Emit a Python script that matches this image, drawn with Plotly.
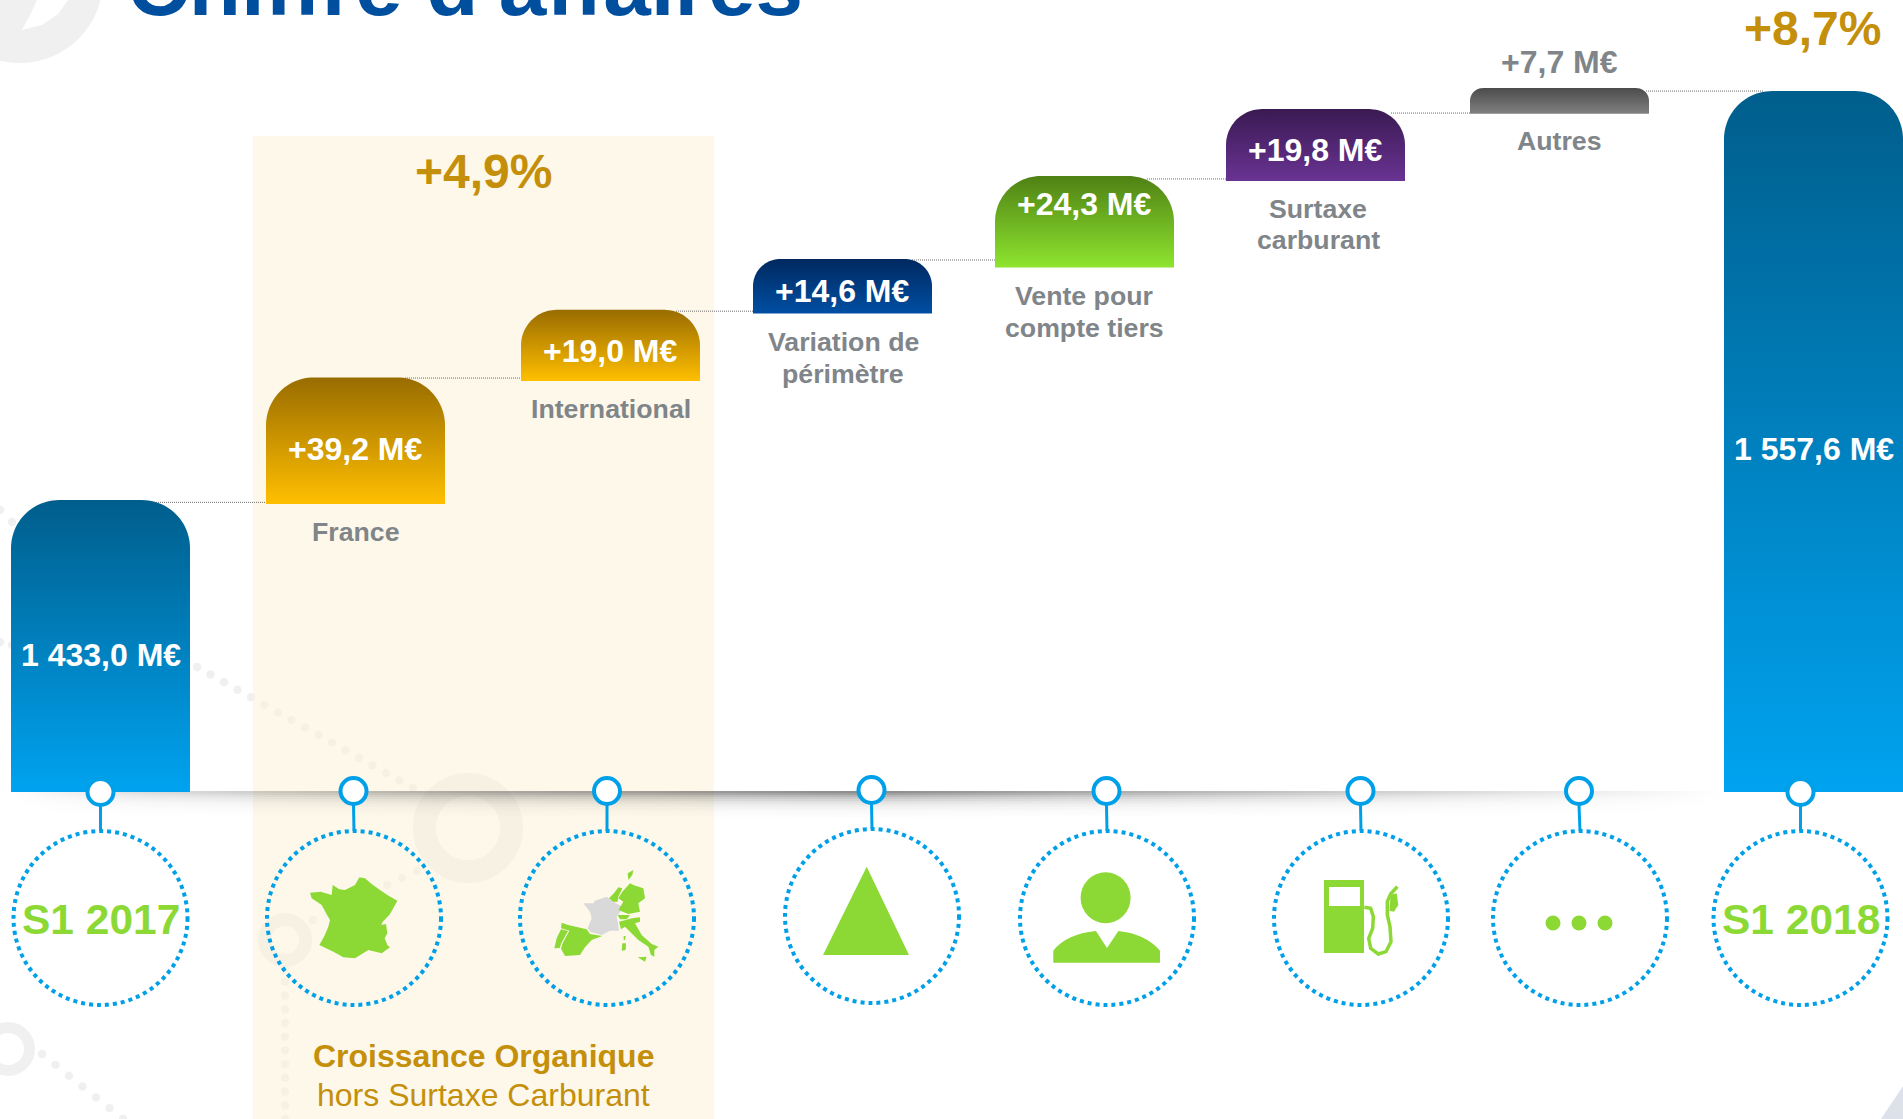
import math
import plotly.graph_objects as go

W, H = 1903, 1119

# ---------- data ----------
categories = ["S1 2017", "France", "International", "Variation de<br>périmètre",
              "Vente pour<br>compte tiers", "Surtaxe<br>carburant", "Autres", "S1 2018"]
value_labels = ["1 433,0 M€", "+39,2 M€", "+19,0 M€", "+14,6 M€",
                "+24,3 M€", "+19,8 M€", "+7,7 M€", "1 557,6 M€"]
bar_low = [1344.0, 1431.8, 1469.3, 1489.9, 1503.9, 1530.3, 1550.8, 1344.0]
bar_high = [1433.0, 1470.4, 1491.0, 1506.5, 1531.8, 1552.2, 1558.6, 1557.7]
connector_levels = [1432.3, 1470.2, 1490.6, 1506.2, 1530.9, 1551.0, 1557.7]
growth_organic = "+4,9%"
growth_total = "+8,7%"
title_text = "Chiffre d'affaires"
organic_line1 = "Croissance Organique"
organic_line2 = "hors Surtaxe Carburant"

# ---------- layout constants ----------
BASE_PX = 792
PX_PER_UNIT = 3.28
BASE_VAL = 1344.0


def yv(px):
    return BASE_VAL + (BASE_PX - px) / PX_PER_UNIT


def xp(px):
    return px / W


def yp(px):
    return 1 - px / H


bar_left = [11, 266, 521, 753, 995, 1226, 1470, 1724]
bar_w = 179
bar_grad = [("#005E8C", "#00A3F0"), ("#996C00", "#FFBF00"), ("#996C00", "#FFBF00"),
            ("#00285F", "#004FA3"), ("#4F8114", "#8EE52F"), ("#3A1A52", "#693393"),
            ("#4C4C4C", "#808080"), ("#005E8C", "#00A3F0")]
value_y = [655.5, 449, 351, 291, 204, 150, 62.5, 449]
value_colors = ["white"] * 6 + ["#7F8589", "white"]
cat_y = [None, [532], [409], [342, 374], [296, 328.5], [208.5, 240], [141], None]
cat_x = [None, 355.5, 610.5, 843, 1084, 1318, 1559, None]
conn_x0 = [150, 405, 676, 912, 1147, 1391, 1646]
conn_x1 = [266, 521, 753, 995, 1226, 1470, 1764]

circle_x = [100.5, 354, 607, 872, 1107, 1361, 1580, 1800.5]
circle_y = [918, 918, 918, 916, 918, 918, 918, 918]
pin_x = [100.5, 353.5, 607, 871.5, 1106.5, 1360.5, 1579, 1800.5]
pin_y = [792, 791, 791, 790, 791, 791, 791, 792]
CIRC_R = 87
BLUE = "#00A0E9"
GREEN = "#8CD936"
GOLD = "#C48F0A"
GREY_TXT = "#7F8589"
DECO = "#F0F0F0"
FONT = "Liberation Sans"


def path(points, close=True):
    s = "M " + " L ".join(f"{xp(x):.5f} {yp(y):.5f}" for x, y in points)
    return s + (" Z" if close else "")


def shp(points, fill, layer="above", close=True, line=None, width=0):
    return dict(type="path", xref="paper", yref="paper", path=path(points, close), layer=layer,
                fillcolor=fill if close else None,
                line=dict(color=line or "rgba(0,0,0,0)", width=width))


def ell(cx, cy, rx, ry, fill=None, line=None, width=0, dash=None, layer="above"):
    l = dict(color=line or "rgba(0,0,0,0)", width=width)
    if dash:
        l["dash"] = dash
    return dict(type="circle", xref="paper", yref="paper", layer=layer,
                x0=xp(cx - rx), x1=xp(cx + rx), y0=yp(cy - ry), y1=yp(cy + ry),
                fillcolor=fill or "rgba(0,0,0,0)", line=l)


def zoomed(points, ox, oy):
    return [(ox + x / 3, oy + y / 3) for x, y in points]


def deco_dots(points, step=15, r=4.2):
    out = []
    for (x0, y0), (x1, y1) in zip(points[:-1], points[1:]):
        n = max(1, int(math.hypot(x1 - x0, y1 - y0) / step))
        for i in range(n + 1):
            cx = x0 + (x1 - x0) * i / n
            cy = y0 + (y1 - y0) * i / n
            out.append(ell(cx, cy, r, r, fill=DECO, layer="below"))
    return out


fig = go.Figure()
shapes = []

# ---------- background decoration (under the translucent band) ----------
shapes.append(ell(20, -20, 83, 83, fill=DECO, layer="below"))
shapes.append(shp([(37, 0), (68, 0), (58, 14), (42, 25), (22, 30), (30, 15)], "#FFFFFF", layer="below"))
shapes.append(ell(468, 828, 43.5, 43.5, line=DECO, width=23, layer="below"))
shapes.append(ell(285, 940, 20.5, 20.5, line=DECO, width=13, layer="below"))
shapes.append(ell(8, 1049, 21.5, 21.5, line=DECO, width=11, layer="below"))
shapes += deco_dots([(0, 510), (60, 570), (197, 667), (413, 788)])
shapes += deco_dots([(0, 642), (12, 645)], step=12)
shapes += deco_dots([(313, 920), (417, 871)])
shapes += deco_dots([(285, 968), (285, 1119)], step=13)
shapes += deco_dots([(42, 1054), (123, 1119)])
shapes.append(shp([(1903, 1086), (1903, 1119), (1881, 1119)], "#DDE1E9", layer="below"))
shapes.append(dict(type="rect", xref="paper", yref="paper", layer="below", x0=xp(253), x1=xp(714),
                   y0=0, y1=yp(136), fillcolor="rgba(251,241,213,0.5)", line=dict(width=0)))

# ---------- baseline with its fading shadow ----------
strip_alpha = [0.62, 0.52, 0.4, 0.3, 0.23, 0.17, 0.125, 0.09, 0.065, 0.045, 0.03, 0.02, 0.012]
for k, a in enumerate(strip_alpha):
    t, b = 791 + 2 * k, 793 + 2 * k
    fig.add_trace(go.Scatter(
        x=[11, 1724, 1724, 11, 11], y=[yv(t), yv(t), yv(b), yv(b), yv(t)],
        mode="lines", line=dict(width=0), fill="toself", hoverinfo="skip", showlegend=False,
        fillgradient=dict(type="horizontal", colorscale=[
            [0, "rgba(70,70,70,0)"], [0.08, f"rgba(70,70,70,{a * 0.3:.3f})"],
            [0.3, f"rgba(70,70,70,{a * 0.75:.3f})"], [0.5, f"rgba(70,70,70,{a:.3f})"],
            [0.75, f"rgba(70,70,70,{a * 0.5:.3f})"], [1, "rgba(70,70,70,0)"]])))

# ---------- connectors ----------
for x0, x1, lv in zip(conn_x0, conn_x1, connector_levels):
    fig.add_trace(go.Scatter(x=[x0, x1], y=[lv, lv], mode="lines", hoverinfo="skip", showlegend=False,
                             line=dict(color="#6E6E6E", width=1, dash="1px,1px")))


# ---------- bars: rounded tops with vertical gradient ----------
def bar_outline(left, width, low, high):
    h_px = (high - low) * PX_PER_UNIT
    r = min(48, h_px / 2)
    steps = [i / 24 for i in range(25)]
    xs, ys = [left], [low]
    for s in steps:
        a = math.pi - s * math.pi / 2
        xs.append(left + r + r * math.cos(a))
        ys.append(high - (r - r * math.sin(a)) / PX_PER_UNIT)
    for s in steps:
        a = math.pi / 2 - s * math.pi / 2
        xs.append(left + width - r + r * math.cos(a))
        ys.append(high - (r - r * math.sin(a)) / PX_PER_UNIT)
    xs += [left + width, left]
    ys += [low, low]
    return xs, ys


for name, left, low, high, (c_top, c_bot) in zip(categories, bar_left, bar_low, bar_high, bar_grad):
    xs, ys = bar_outline(left, bar_w, low, high)
    fig.add_trace(go.Scatter(
        x=xs, y=ys, mode="lines", line=dict(width=0, simplify=False), fill="toself", showlegend=False,
        name=name.replace("<br>", " "), hoverinfo="name",
        fillgradient=dict(type="vertical", colorscale=[[0, c_bot], [1, c_top]])))

# ---------- pins and dotted circles ----------
for px_, py_, cx, cy in zip(pin_x, pin_y, circle_x, circle_y):
    shapes.append(dict(type="line", xref="paper", yref="paper", layer="above",
                       x0=xp(px_), x1=xp(cx), y0=yp(py_ + 14), y1=yp(cy - CIRC_R),
                       line=dict(color=BLUE, width=3)))
    shapes.append(ell(px_, py_, 13, 13, fill="#FFFFFF", line=BLUE, width=4))
    shapes.append(ell(cx, cy, CIRC_R, CIRC_R, line=BLUE, width=4, dash="dot"))

# ---------- icons ----------
france = [(30, 68), (62, 65), (95, 75), (98, 45), (118, 58), (135, 60), (165, 45), (178, 22), (195, 25),
          (215, 42), (240, 60), (262, 75), (292, 92), (280, 115), (268, 135), (248, 155), (244, 165), (258, 162),
          (262, 190), (254, 205), (262, 225), (270, 232), (245, 250), (205, 240), (165, 265), (130, 262),
          (100, 245), (58, 225), (72, 200), (85, 170), (90, 150), (76, 125), (65, 105), (35, 85)]
shapes.append(shp(zoomed(france, 300, 870), GREEN))

eu_grey = [(115, 130), (145, 130), (150, 122), (185, 110), (205, 125), (235, 142), (215, 170), (220, 195),
           (222, 212), (195, 212), (170, 225), (135, 215), (128, 205), (140, 175), (135, 155)]
shapes.append(shp(zoomed(eu_grey, 545, 860), "#D9D9D9"))
eu_green = [
    [(255, 70), (265, 75), (295, 85), (300, 115), (280, 130), (285, 155), (250, 162), (220, 150), (235, 125),
     (220, 115), (232, 95)],
    [(248, 40), (265, 30), (262, 45), (250, 60)],
    [(192, 115), (208, 98), (220, 82), (232, 85), (220, 110), (218, 125), (205, 125)],
    [(218, 165), (255, 165), (245, 178), (225, 178)],
    [(222, 185), (262, 175), (285, 172), (285, 185), (270, 190), (290, 225), (320, 252), (340, 260), (328, 270),
     (328, 290), (318, 285), (310, 260), (280, 240), (255, 215), (240, 200), (228, 208)],
    [(232, 250), (243, 250), (242, 270), (230, 272)],
    [(236, 228), (242, 228), (240, 240), (236, 240)],
    [(278, 292), (305, 290), (300, 305)],
    [(50, 188), (70, 195), (125, 208), (135, 222), (172, 228), (140, 240), (120, 262), (105, 285), (60, 288),
     (48, 266), (53, 250), (73, 212), (48, 205)],
    [(28, 265), (35, 235), (48, 208), (69, 213), (49, 250), (44, 264)],
]
for poly in eu_green:
    shapes.append(shp(zoomed(poly, 545, 860), GREEN))

shapes.append(shp([(866.7, 866.7), (909, 955), (823, 955)], GREEN))

shapes.append(ell(1105.6, 897.7, 25, 25.5, fill=GREEN))
shapes.append(dict(type="path", xref="paper", yref="paper", layer="above", fillcolor=GREEN,
                   line=dict(width=0, color="rgba(0,0,0,0)"),
                   path=(f"M {xp(1053.3):.5f} {yp(962.7):.5f} L {xp(1053.3):.5f} {yp(950.7):.5f} "
                         f"Q {xp(1066):.5f} {yp(934):.5f} {xp(1096):.5f} {yp(931):.5f} "
                         f"L {xp(1107):.5f} {yp(948):.5f} L {xp(1118.4):.5f} {yp(931):.5f} "
                         f"Q {xp(1146):.5f} {yp(934):.5f} {xp(1160):.5f} {yp(950.7):.5f} "
                         f"L {xp(1160):.5f} {yp(962.7):.5f} Z")))

shapes.append(dict(type="rect", xref="paper", yref="paper", layer="above", x0=xp(1324), x1=xp(1364),
                   y0=yp(953), y1=yp(880), fillcolor=GREEN, line=dict(width=0)))
shapes.append(dict(type="rect", xref="paper", yref="paper", layer="above", x0=xp(1329), x1=xp(1360),
                   y0=yp(906), y1=yp(887), fillcolor="#FFFFFF", line=dict(width=0)))
hose = [(163, 112), (182, 115), (190, 140), (188, 175), (176, 205), (182, 235), (205, 252), (228, 245),
        (243, 215), (240, 170), (232, 135), (232, 95), (242, 72), (262, 50)]
shapes.append(shp(zoomed(hose, 1310, 870), None, close=False, line=GREEN, width=3.5))
nozzle = [(242, 75), (260, 70), (265, 105), (252, 125), (238, 122)]
shapes.append(shp(zoomed(nozzle, 1310, 870), GREEN))

for dx in (1553, 1579, 1605):
    shapes.append(ell(dx, 923, 7.5, 7.5, fill=GREEN))


# ---------- texts ----------
def label(text, x, y, size, color, bold=True):
    return dict(text=text, x=xp(x), y=yp(y), xref="paper", yref="paper", xanchor="center", yanchor="middle",
                showarrow=False, font=dict(family=FONT, size=size, color=color, weight=700 if bold else 400))


ann = [label(title_text, 465, -14, 85.5, "#004F9F"),
       label(growth_organic, 483.5, 171.5, 48, GOLD),
       label(growth_total, 1812.5, 29, 48, GOLD),
       label(organic_line1, 483.5, 1056, 32, GOLD),
       label(organic_line2, 483.5, 1095, 32, GOLD, bold=False),
       label(categories[0], 100.5, 919, 42.5, GREEN),
       label(categories[7], 1801, 919, 42.5, GREEN)]
for left, txt, vy, vc in zip(bar_left, value_labels, value_y, value_colors):
    ann.append(label(txt, left + bar_w / 2, vy, 32, vc))
for txt, cx, ys in zip(categories, cat_x, cat_y):
    if cx is None:
        continue
    for part, py_ in zip(txt.split("<br>"), ys):
        ann.append(label(part, cx, py_, 26.7, GREY_TXT))

fig.update_layout(
    width=W, height=H, margin=dict(l=0, r=0, t=0, b=0),
    paper_bgcolor="white", plot_bgcolor="white", showlegend=False,
    xaxis=dict(range=[0, W], visible=False, fixedrange=True),
    yaxis=dict(range=[yv(H), yv(0)], visible=False, fixedrange=True),
    shapes=shapes, annotations=ann)

fig.write_html("out.html", post_script="document.body.style.margin='0';document.body.style.overflow='hidden';",
               config=dict(displayModeBar=False))
